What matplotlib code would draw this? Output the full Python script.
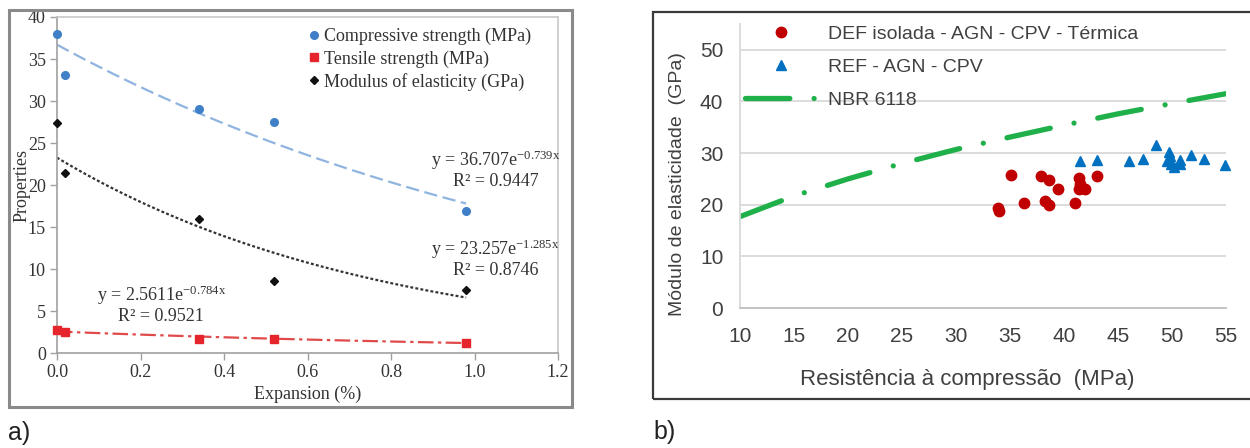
import numpy as np
import matplotlib
matplotlib.use("Agg")
import matplotlib.pyplot as plt
from matplotlib.patches import Rectangle
from matplotlib.lines import Line2D

# ---------------- data: panel a ----------------
expansion = [0.0, 0.02, 0.34, 0.52, 0.98]
compressive = [38.0, 33.1, 29.1, 27.5, 16.9]
tensile = [2.75, 2.55, 1.7, 1.7, 1.2]
modulus = [27.4, 21.4, 15.9, 8.6, 7.5]
# printed trend-line equations y = a * exp(b * x)
trend_a = [36.707, 2.5611, 23.257]
trend_b = [-0.739, -0.784, -1.285]
trend_r2 = ["0.9447", "0.9521", "0.8746"]
labels_a = ["Compressive strength (MPa)", "Tensile strength (MPa)", "Modulus of elasticity (GPa)"]
xticks_a = [0.0, 0.2, 0.4, 0.6, 0.8, 1.0, 1.2]
yticks_a = [0, 5, 10, 15, 20, 25, 30, 35, 40]

# ---------------- data: panel b ----------------
def_x = [33.9, 34.0, 35.1, 36.3, 37.9, 38.6, 38.2, 38.6, 39.4, 41.0, 41.4, 41.4, 41.9, 41.5, 43.1]
def_y = [19.4, 18.7, 25.8, 20.3, 25.5, 24.7, 20.8, 19.9, 23.1, 20.3, 25.1, 23.1, 23.1, 24.1, 25.5]
ref_x = [41.5, 43.1, 46.0, 47.3, 48.5, 49.7, 49.5, 49.9, 50.2, 50.7, 50.7, 51.8, 53.0, 54.9, 49.8]
ref_y = [28.4, 28.7, 28.4, 28.9, 31.6, 30.3, 28.4, 27.8, 27.4, 28.7, 27.8, 29.7, 28.8, 27.6, 29.4]
nbr_x = [10, 15, 20, 25, 30, 35, 40, 45, 50, 55]
nbr_y = [17.7, 21.7, 25.0, 28.0, 30.7, 33.1, 35.4, 37.6, 39.6, 41.5]
labels_b = ["DEF isolada - AGN - CPV - Térmica", "REF - AGN - CPV", "NBR 6118"]
xticks_b = [10, 15, 20, 25, 30, 35, 40, 45, 50, 55]
yticks_b = [0, 10, 20, 30, 40, 50]

W, H = 1250, 448
plt.rcParams["mathtext.default"] = "regular"
fig = plt.figure(figsize=(W / 100, H / 100), dpi=100)


def box(l, t, r, b):
    return [l / W, 1 - b / H, (r - l) / W, (b - t) / H]


SERIF = "Liberation Serif"
SANS = "Liberation Sans"

# ================= panel a =================
axA = fig.add_axes(box(57, 17, 558, 353))
axA.set_xlim(0, 1.2)
axA.set_ylim(0, 40)
colors_a = ["#3f80c8", "#e5242b", "#111111"]
markers_a = ["o", "s", "D"]
msizes = [5.5, 5.5, 4.5]
series_a = [compressive, tensile, modulus]
tcolors = ["#8fb4df", "#e04a4a", "#333333"]
tstyles = [(0, (6, 2.5)), (0, (7, 2, 1.5, 2)), (0, (1.3, 1.0))]
xx = np.linspace(0, max(expansion), 80)
handles = []
for s, c, m, ms, tc, ts, a, b in zip(series_a, colors_a, markers_a, msizes, tcolors, tstyles, trend_a, trend_b):
    axA.plot(xx, a * np.exp(b * xx), color=tc, lw=1.6, linestyle=ts, zorder=2)
    axA.plot(expansion, s, linestyle="none", marker=m, ms=ms, color=c, mec=c, zorder=3, clip_on=False)
    handles.append(Line2D([], [], linestyle="none", marker=m, ms=ms, color=c))

axA.set_xticks(xticks_a)
axA.set_xticklabels([f"{v:.1f}" for v in xticks_a])
axA.set_yticks(yticks_a)
for sp in axA.spines.values():
    sp.set_color("#c8c8c8")
    sp.set_linewidth(1.2)
axA.spines["left"].set_color("#a0a0a0")
axA.spines["bottom"].set_color("#a0a0a0")
axA.tick_params(direction="out", length=5, width=1, color="#a0a0a0", labelsize=13,
                labelcolor="#333333", pad=3)
for lab in axA.get_xticklabels() + axA.get_yticklabels():
    lab.set_family(SERIF)
axA.set_xlabel("Expansion (%)", family=SERIF, fontsize=13, color="#333333", labelpad=3)
axA.set_ylabel("Properties", family=SERIF, fontsize=13, color="#333333", labelpad=-2)

leg = axA.legend(handles, labels_a, loc="upper left", bbox_to_anchor=(309 / W, 1 - 28 / H),
                 bbox_transform=fig.transFigure, frameon=False, borderpad=0, borderaxespad=0,
                 handlelength=0.55, handletextpad=0.3, labelspacing=0.28,
                 prop={"family": SERIF, "size": 13})
for t in leg.get_texts():
    t.set_color("#333333")

eq_pos = [(1.05, 21.9), (0.25, 5.8), (1.05, 11.3)]
for a, b, r2, (px, py) in zip(trend_a, trend_b, trend_r2, eq_pos):
    axA.text(px, py, f"y = {a}e$^{{{b}x}}$\nR² = {r2}", ha="center", va="center",
             family=SERIF, fontsize=13, color="#333333", linespacing=1.05)

fig.add_artist(Rectangle((9 / W, 1 - 407 / H), (572 - 9) / W, (407 - 10) / H,
                         transform=fig.transFigure, fill=False, ec="#8a8a8a", lw=2.2))
fig.text(8 / W, 1 - 433 / H, "a)", family=SANS, fontsize=18, color="#222222", va="center", ha="left")

# ================= panel b =================
axB = fig.add_axes(box(740, 24, 1226, 308))
axB.set_xlim(10, 55)
axB.set_ylim(0, 55)
axB.set_xticks(xticks_b)
axB.set_yticks(yticks_b)
axB.yaxis.grid(True, color="#d9d9d9", lw=1.3)
axB.set_axisbelow(True)
for k in ["top", "right"]:
    axB.spines[k].set_visible(False)
axB.spines["left"].set_color("#d9d9d9")
axB.spines["left"].set_linewidth(1.3)
axB.spines["bottom"].set_color("#bfbfbf")
axB.spines["bottom"].set_linewidth(1.3)
axB.tick_params(length=0, labelsize=15, labelcolor="#404040")
axB.tick_params(axis="x", pad=14)
axB.tick_params(axis="y", pad=12)
for lab in axB.get_xticklabels() + axB.get_yticklabels():
    lab.set_family(SANS)

green = "#1fb04a"
lnbr, = axB.plot(nbr_x, nbr_y, color=green, lw=3.8, linestyle=(0, (8.4, 4.6, 0.001, 4.6)),
                 dash_capstyle="round", zorder=2, label=labels_b[2])
ldef, = axB.plot(def_x, def_y, linestyle="none", marker="o", ms=7.5, color="#c00000",
                 mec="#c00000", zorder=3, label=labels_b[0])
lref, = axB.plot(ref_x, ref_y, linestyle="none", marker="^", ms=7.5, color="#0070c0",
                 mec="#0070c0", zorder=3, clip_on=False, label=labels_b[1])

axB.set_xlabel("Resistência à compressão  (MPa)", family=SANS, fontsize=16, color="#404040",
               labelpad=16, x=0.467)
axB.set_ylabel("Módulo de elasticidade  (GPa)", family=SANS, fontsize=14, color="#404040",
               labelpad=10, y=0.437)

legB = axB.legend([ldef, lref, lnbr], labels_b, loc="upper left", bbox_to_anchor=(745 / W, 1 - 25 / H),
                  bbox_transform=fig.transFigure, frameon=False, borderpad=0, borderaxespad=0,
                  handlelength=3.75, handletextpad=0.5, labelspacing=0.8,
                  prop={"family": SANS, "size": 14})
for t in legB.get_texts():
    t.set_color("#404040")

fig.add_artist(Rectangle((653 / W, 1 - 399 / H), (1270 - 653) / W, (399 - 12) / H,
                         transform=fig.transFigure, fill=False, ec="#3a3a3a", lw=1.6))
fig.text(653 / W, 1 - 432 / H, "b)", family=SANS, fontsize=18, color="#222222", va="center", ha="left")

fig.savefig("out.png", dpi=100)
